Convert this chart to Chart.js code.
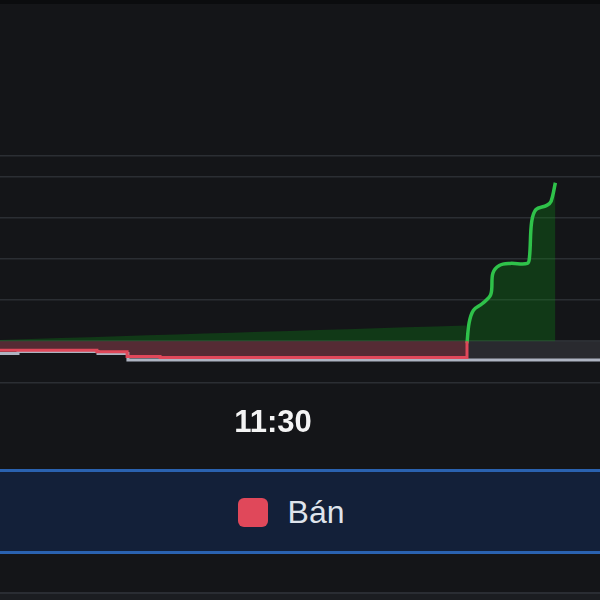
<!DOCTYPE html>
<html lang="vi">
<head>
<meta charset="utf-8">
<title>Mua / Bán</title>
<script src="https://cdn.jsdelivr.net/npm/chart.js@4.4.1/dist/chart.umd.min.js"></script>
<style>
  html, body { margin: 0; padding: 0; background: #141518; }
  #wrap { position: relative; width: 600px; height: 600px; overflow: hidden; background: #141518; filter: blur(0.5px); }
  #topbar { position: absolute; left: 0; top: 0; width: 600px; height: 4px; background: #0b0c0e; }
  #chart { position: absolute; left: 0; top: 0; }
  #legend {
    position: absolute; left: 0; top: 469px; width: 600px; height: 85px;
    background: #132039; border-top: 3px solid #2a62b0; border-bottom: 3px solid #2a62b0;
    display: flex; align-items: center; justify-content: center; padding-right: 18px; padding-top: 2px; box-sizing: border-box;
  }
  #legend ul { list-style: none; margin: 0; padding: 0; display: flex; gap: 30px; }
  #legend li { display: flex; align-items: center; font: 32px "Liberation Sans", Arial, sans-serif; color: #dfe4ec; }
  #legend .box { width: 30px; height: 29px; border-radius: 6px; margin-right: 20px; }
  #footline { position: absolute; left: 0; top: 592px; width: 600px; height: 2px; background: #2a2d33; }
  #foot { position: absolute; left: 0; top: 594px; width: 600px; height: 6px; background: #1b1d21; }
</style>
</head>
<body>
<div id="wrap">
  <canvas id="chart" width="600" height="600"></canvas>
  <div id="topbar"></div>
  <div id="legend"><ul id="legend-items"></ul></div>
  <div id="footline"></div>
  <div id="foot"></div>
</div>
<script>
// Thời gian tính theo phút kể từ 0:00 (690 = 11:30, 780 = 13:00)
const xMin = 563.35;
const xMax = 841.7;
const timeTicks = [690];

// Khối lượng bán (âm), đường bậc thang
const banTime  = [560, 608.3, 622.3, 637.6, 780];
const banValue = [-0.22, -0.26, -0.37, -0.40, 0];

// Đường tổng khớp (xám), bậc thang
const tongTime  = [560, 571.7, 608.8, 622.7, 845];
const tongValue = [-0.30, -0.25, -0.30, -0.46, -0.46];

// Khối lượng mua: đoạn buổi sáng chỉ tô nền, phiên chiều vẽ đường
const muaSangTime  = [560, 779.5];
const muaSangValue = [0.025, 0.38];
const muaChieuTime  = [780, 781, 783, 787, 791, 792, 795, 800, 808, 809, 810, 812, 817, 819, 821];
const muaChieuValue = [-0.05, 0.45, 0.75, 0.91, 1.13, 1.65, 1.84, 1.89, 1.89, 2.05, 2.9, 3.2, 3.3, 3.4, 3.85];

// Trục giá trị
const yMin = -1;
const yMax = 4.5;
const yTicks = [-1, 0, 1, 2, 3, 4, 4.5];

const pts = (xs, ys) => xs.map((x, i) => ({ x, y: ys[i] }));

const muaData = pts(muaSangTime, muaSangValue)
  .concat([{ x: (muaSangTime[muaSangTime.length - 1] + muaChieuTime[0]) / 2, y: null }])
  .concat(pts(muaChieuTime, muaChieuValue));
const sangCount = muaSangTime.length;

const fmtTime = v => {
  const h = Math.floor(v / 60), m = Math.round(v % 60);
  return String(h).padStart(2, '0') + ':' + String(m).padStart(2, '0');
};

const htmlLegend = {
  id: 'htmlLegend',
  afterUpdate(chart) {
    const ul = document.getElementById('legend-items');
    ul.innerHTML = '';
    Chart.defaults.plugins.legend.labels.generateLabels(chart)
      .filter(item => chart.data.datasets[item.datasetIndex].inLegend)
      .forEach(item => {
        const li = document.createElement('li');
        const box = document.createElement('span');
        box.className = 'box';
        box.style.background = item.strokeStyle;
        const text = document.createElement('span');
        text.textContent = item.text;
        li.appendChild(box);
        li.appendChild(text);
        ul.appendChild(li);
      });
  }
};

new Chart(document.getElementById('chart'), {
  type: 'line',
  data: {
    datasets: [
      {
        label: 'Bán',
        inLegend: true,
        data: pts(banTime, banValue),
        borderColor: '#e0485a',
        backgroundColor: 'rgba(215, 45, 65, 0.26)',
        borderWidth: 3,
        stepped: true,
        fill: 'origin',
        pointRadius: 0
      },
      {
        label: 'Mua',
        data: muaData,
        borderColor: '#2fc24a',
        backgroundColor: 'rgba(10, 150, 20, 0.28)',
        borderWidth: 3.5,
        tension: 0.35,
        fill: 'origin',
        pointRadius: 0,
        segment: {
          borderColor: ctx => (ctx.p1DataIndex < sangCount ? 'rgba(0,0,0,0)' : undefined)
        }
      },
      {
        label: 'Tổng',
        data: pts(tongTime, tongValue),
        borderColor: '#aeb4c2',
        backgroundColor: 'rgba(160, 165, 180, 0.15)',
        borderWidth: 3,
        stepped: true,
        fill: 'origin',
        pointRadius: 0
      }
    ]
  },
  options: {
    responsive: false,
    animation: false,
    devicePixelRatio: 1,
    layout: { padding: { top: 156, bottom: 134.5, left: 0, right: 0 } },
    plugins: {
      legend: { display: false },
      tooltip: { enabled: false }
    },
    scales: {
      x: {
        type: 'linear',
        min: xMin,
        max: xMax,
        afterBuildTicks: s => { s.ticks = timeTicks.map(v => ({ value: v })); },
        grid: { display: false, drawTicks: false },
        border: { display: false },
        ticks: {
          color: '#f4f4f4',
          padding: 23,
          maxRotation: 0,
          autoSkip: false,
          font: { family: '"Liberation Sans", Arial, sans-serif', size: 31, weight: 'bold' },
          callback: v => fmtTime(v)
        }
      },
      y: {
        min: yMin,
        max: yMax,
        afterBuildTicks: s => { s.ticks = yTicks.map(v => ({ value: v })); },
        afterFit: s => { s.width = 0; },
        grid: { color: '#2b2e33', lineWidth: 1.5, drawTicks: false },
        border: { display: false },
        ticks: { display: false }
      }
    }
  },
  plugins: [htmlLegend]
});
</script>
</body>
</html>
